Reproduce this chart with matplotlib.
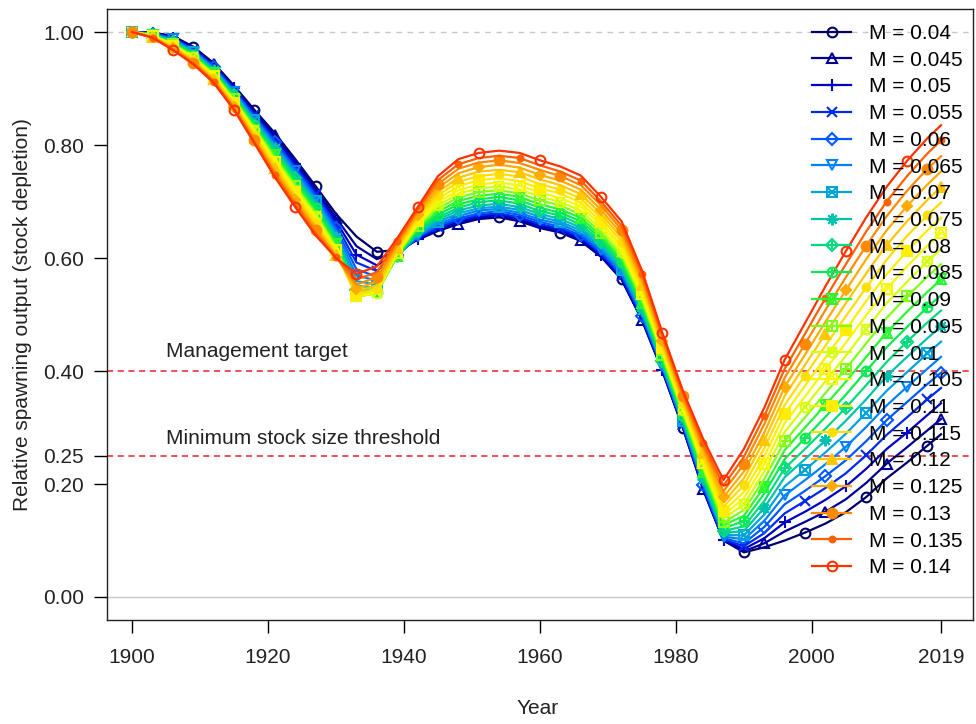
import numpy as np
import matplotlib
matplotlib.use("Agg")
import matplotlib.pyplot as plt
from matplotlib.legend_handler import HandlerTuple

plt.rcParams['font.family'] = ['Liberation Sans', 'DejaVu Sans']

# --- data (relative spawning output by year) ---
years = [1900, 1903, 1906, 1909, 1912, 1915, 1918, 1921, 1924, 1927,
         1930, 1933, 1936, 1939, 1942, 1945, 1948, 1951, 1954, 1957,
         1960, 1963, 1966, 1969, 1972, 1975, 1978, 1981, 1984, 1987,
         1990, 1993, 1996, 1999, 2002, 2005, 2008, 2011, 2014, 2017, 2019]

m_values = [0.04, 0.045, 0.05, 0.055, 0.06, 0.065, 0.07, 0.075, 0.08, 0.085, 0.09,
            0.095, 0.1, 0.105, 0.11, 0.115, 0.12, 0.125, 0.13, 0.135, 0.14]

dep_m040 = [1.000, 0.999, 0.993, 0.974, 0.945, 0.905, 0.862, 0.821, 0.775, 0.727, 0.678, 0.638, 0.611, 0.614, 0.632, 0.648, 0.660, 0.669, 0.672, 0.665, 0.653, 0.645, 0.630, 0.602, 0.562, 0.490, 0.400, 0.300, 0.190, 0.100, 0.079, 0.088, 0.100, 0.114, 0.130, 0.150, 0.177, 0.210, 0.238, 0.268, 0.288]
dep_m045 = [1.000, 0.999, 0.992, 0.972, 0.943, 0.903, 0.859, 0.817, 0.771, 0.723, 0.671, 0.621, 0.598, 0.611, 0.633, 0.649, 0.661, 0.670, 0.673, 0.666, 0.654, 0.646, 0.631, 0.603, 0.563, 0.491, 0.401, 0.301, 0.191, 0.100, 0.081, 0.095, 0.116, 0.133, 0.151, 0.173, 0.202, 0.236, 0.265, 0.295, 0.315]
dep_m050 = [1.000, 0.998, 0.990, 0.971, 0.941, 0.901, 0.856, 0.813, 0.766, 0.718, 0.665, 0.606, 0.587, 0.609, 0.634, 0.651, 0.664, 0.673, 0.676, 0.669, 0.657, 0.649, 0.634, 0.605, 0.565, 0.493, 0.402, 0.302, 0.193, 0.101, 0.085, 0.104, 0.132, 0.151, 0.172, 0.196, 0.227, 0.262, 0.291, 0.322, 0.343]
dep_m055 = [1.000, 0.998, 0.989, 0.969, 0.940, 0.899, 0.853, 0.809, 0.762, 0.714, 0.659, 0.592, 0.577, 0.607, 0.635, 0.654, 0.667, 0.676, 0.679, 0.672, 0.660, 0.652, 0.637, 0.608, 0.568, 0.495, 0.404, 0.304, 0.195, 0.102, 0.090, 0.113, 0.148, 0.170, 0.193, 0.219, 0.251, 0.287, 0.318, 0.350, 0.370]
dep_m060 = [1.000, 0.997, 0.988, 0.968, 0.938, 0.896, 0.850, 0.805, 0.758, 0.710, 0.653, 0.580, 0.567, 0.605, 0.637, 0.657, 0.670, 0.679, 0.683, 0.676, 0.664, 0.655, 0.640, 0.611, 0.571, 0.498, 0.406, 0.306, 0.198, 0.104, 0.095, 0.124, 0.164, 0.188, 0.214, 0.242, 0.276, 0.313, 0.345, 0.377, 0.397]
dep_m065 = [1.000, 0.997, 0.987, 0.966, 0.936, 0.894, 0.847, 0.801, 0.754, 0.705, 0.647, 0.569, 0.560, 0.604, 0.639, 0.660, 0.674, 0.684, 0.687, 0.680, 0.668, 0.660, 0.644, 0.615, 0.575, 0.501, 0.408, 0.308, 0.201, 0.107, 0.102, 0.135, 0.180, 0.207, 0.235, 0.266, 0.301, 0.339, 0.372, 0.404, 0.425]
dep_m070 = [1.000, 0.996, 0.986, 0.965, 0.934, 0.892, 0.844, 0.798, 0.749, 0.701, 0.642, 0.559, 0.553, 0.603, 0.641, 0.664, 0.679, 0.688, 0.691, 0.685, 0.673, 0.664, 0.649, 0.619, 0.579, 0.504, 0.411, 0.311, 0.205, 0.110, 0.109, 0.146, 0.196, 0.225, 0.256, 0.289, 0.326, 0.365, 0.398, 0.431, 0.452]
dep_m075 = [1.000, 0.996, 0.984, 0.963, 0.933, 0.890, 0.841, 0.794, 0.745, 0.697, 0.637, 0.551, 0.547, 0.603, 0.644, 0.668, 0.684, 0.693, 0.696, 0.690, 0.678, 0.669, 0.654, 0.624, 0.583, 0.508, 0.414, 0.314, 0.209, 0.113, 0.117, 0.158, 0.212, 0.244, 0.277, 0.312, 0.350, 0.391, 0.425, 0.458, 0.479]
dep_m080 = [1.000, 0.995, 0.983, 0.962, 0.931, 0.888, 0.838, 0.790, 0.741, 0.692, 0.632, 0.544, 0.543, 0.603, 0.647, 0.672, 0.689, 0.699, 0.702, 0.696, 0.683, 0.675, 0.659, 0.629, 0.588, 0.512, 0.417, 0.317, 0.213, 0.117, 0.125, 0.170, 0.228, 0.262, 0.298, 0.335, 0.375, 0.416, 0.452, 0.486, 0.507]
dep_m085 = [1.000, 0.995, 0.982, 0.960, 0.929, 0.886, 0.835, 0.786, 0.737, 0.688, 0.628, 0.539, 0.540, 0.604, 0.650, 0.677, 0.695, 0.704, 0.708, 0.702, 0.689, 0.680, 0.665, 0.634, 0.593, 0.517, 0.421, 0.320, 0.217, 0.122, 0.134, 0.183, 0.244, 0.281, 0.319, 0.358, 0.400, 0.442, 0.478, 0.513, 0.534]
dep_m090 = [1.000, 0.994, 0.980, 0.958, 0.927, 0.883, 0.832, 0.782, 0.732, 0.683, 0.624, 0.535, 0.538, 0.604, 0.652, 0.682, 0.701, 0.710, 0.714, 0.708, 0.695, 0.686, 0.671, 0.639, 0.598, 0.521, 0.424, 0.323, 0.222, 0.127, 0.144, 0.195, 0.260, 0.300, 0.340, 0.381, 0.425, 0.468, 0.505, 0.540, 0.562]
dep_m095 = [1.000, 0.994, 0.979, 0.957, 0.926, 0.881, 0.830, 0.778, 0.728, 0.679, 0.620, 0.532, 0.537, 0.606, 0.656, 0.688, 0.707, 0.717, 0.720, 0.714, 0.702, 0.693, 0.677, 0.645, 0.604, 0.526, 0.428, 0.327, 0.227, 0.132, 0.154, 0.209, 0.276, 0.318, 0.361, 0.404, 0.449, 0.494, 0.532, 0.567, 0.589]
dep_m100 = [1.000, 0.994, 0.978, 0.955, 0.924, 0.879, 0.827, 0.774, 0.724, 0.675, 0.617, 0.531, 0.538, 0.607, 0.659, 0.693, 0.714, 0.723, 0.727, 0.721, 0.709, 0.699, 0.684, 0.651, 0.610, 0.531, 0.432, 0.331, 0.232, 0.139, 0.164, 0.222, 0.292, 0.337, 0.382, 0.427, 0.474, 0.520, 0.558, 0.594, 0.616]
dep_m105 = [1.000, 0.993, 0.977, 0.954, 0.922, 0.877, 0.824, 0.770, 0.720, 0.670, 0.614, 0.531, 0.540, 0.609, 0.662, 0.699, 0.720, 0.730, 0.734, 0.728, 0.716, 0.706, 0.691, 0.658, 0.616, 0.536, 0.436, 0.335, 0.237, 0.145, 0.175, 0.235, 0.308, 0.355, 0.403, 0.450, 0.499, 0.545, 0.585, 0.622, 0.644]
dep_m110 = [1.000, 0.993, 0.976, 0.952, 0.920, 0.875, 0.821, 0.766, 0.716, 0.666, 0.611, 0.533, 0.542, 0.612, 0.666, 0.705, 0.727, 0.738, 0.741, 0.736, 0.723, 0.714, 0.698, 0.664, 0.622, 0.542, 0.440, 0.339, 0.243, 0.152, 0.186, 0.249, 0.324, 0.374, 0.424, 0.473, 0.524, 0.571, 0.612, 0.649, 0.671]
dep_m115 = [1.000, 0.992, 0.974, 0.951, 0.919, 0.873, 0.818, 0.762, 0.711, 0.662, 0.608, 0.536, 0.546, 0.615, 0.670, 0.711, 0.735, 0.745, 0.749, 0.744, 0.731, 0.721, 0.705, 0.671, 0.629, 0.547, 0.444, 0.343, 0.249, 0.160, 0.198, 0.263, 0.340, 0.392, 0.445, 0.497, 0.548, 0.597, 0.639, 0.676, 0.698]
dep_m120 = [1.000, 0.992, 0.973, 0.949, 0.917, 0.871, 0.815, 0.759, 0.707, 0.657, 0.606, 0.540, 0.552, 0.618, 0.674, 0.717, 0.742, 0.753, 0.756, 0.752, 0.739, 0.729, 0.713, 0.678, 0.636, 0.553, 0.449, 0.347, 0.254, 0.168, 0.210, 0.277, 0.356, 0.411, 0.466, 0.520, 0.573, 0.623, 0.665, 0.703, 0.726]
dep_m125 = [1.000, 0.991, 0.972, 0.948, 0.915, 0.868, 0.812, 0.755, 0.703, 0.653, 0.604, 0.546, 0.558, 0.622, 0.677, 0.724, 0.750, 0.761, 0.765, 0.760, 0.747, 0.737, 0.721, 0.685, 0.643, 0.559, 0.453, 0.352, 0.261, 0.177, 0.222, 0.291, 0.372, 0.429, 0.487, 0.543, 0.598, 0.649, 0.692, 0.730, 0.753]
dep_m130 = [1.000, 0.991, 0.970, 0.946, 0.913, 0.866, 0.809, 0.751, 0.698, 0.649, 0.602, 0.553, 0.566, 0.626, 0.682, 0.731, 0.758, 0.769, 0.773, 0.768, 0.756, 0.745, 0.729, 0.693, 0.650, 0.565, 0.458, 0.356, 0.267, 0.187, 0.235, 0.306, 0.388, 0.448, 0.508, 0.566, 0.622, 0.674, 0.719, 0.758, 0.780]
dep_m135 = [1.000, 0.990, 0.969, 0.945, 0.912, 0.864, 0.806, 0.747, 0.694, 0.644, 0.601, 0.562, 0.575, 0.630, 0.686, 0.738, 0.766, 0.777, 0.781, 0.777, 0.764, 0.753, 0.737, 0.700, 0.657, 0.572, 0.463, 0.361, 0.273, 0.197, 0.248, 0.320, 0.404, 0.466, 0.529, 0.589, 0.647, 0.700, 0.745, 0.785, 0.808]
dep_m140 = [1.000, 0.990, 0.968, 0.943, 0.910, 0.862, 0.803, 0.743, 0.690, 0.640, 0.600, 0.572, 0.585, 0.635, 0.690, 0.745, 0.775, 0.786, 0.790, 0.786, 0.773, 0.762, 0.746, 0.708, 0.665, 0.578, 0.468, 0.366, 0.280, 0.207, 0.262, 0.335, 0.420, 0.485, 0.550, 0.612, 0.672, 0.726, 0.772, 0.812, 0.835]

series = [dep_m040, dep_m045, dep_m050, dep_m055, dep_m060, dep_m065, dep_m070,
          dep_m075, dep_m080, dep_m085, dep_m090, dep_m095, dep_m100, dep_m105,
          dep_m110, dep_m115, dep_m120, dep_m125, dep_m130, dep_m135, dep_m140]

mgmt_target = 0.40
min_threshold = 0.25
x_ticks = [1900, 1920, 1940, 1960, 1980, 2000, 2019]
y_ticks = [0.0, 0.2, 0.25, 0.4, 0.6, 0.8, 1.0]


def rich_colors_short(n):
    # r4ss palette: dark blue -> cyan -> green -> yellow -> red
    x = np.linspace(0, 1, n)
    r = 1 / (1 + np.exp(20 - 35 * x))
    g = np.clip(-0.8 + 6 * x - 5 * x ** 2, 0, 1)
    b = np.exp(-(x - 0.25) ** 2 / (2 * 0.15 ** 2))
    b = b / b.max()
    return np.column_stack([r, g, b])


colors = rich_colors_short(len(series) + 1)[1:]

# R pch 1..21 look-alikes: (marker, filled, size factor, overlay marker)
pch = [
    ('o', False, 1.0, None),
    ('^', False, 1.0, None),
    ('+', False, 1.2, None),
    ('x', False, 1.0, None),
    ('D', False, 0.9, None),
    ('v', False, 1.0, None),
    ('s', False, 1.0, 'x'),
    ((8, 2, 0), False, 1.2, None),
    ('D', False, 0.9, '+'),
    ('o', False, 1.0, '+'),
    ('^', False, 1.0, 'v'),
    ('s', False, 1.0, '+'),
    ('o', False, 1.0, 'x'),
    ('s', False, 1.0, '^'),
    ('s', True, 1.0, None),
    ('o', True, 0.8, None),
    ('^', True, 1.0, None),
    ('D', True, 0.7, None),
    ('o', True, 1.0, None),
    ('o', True, 0.6, None),
    ('o', False, 1.0, None),
]

fig = plt.figure(figsize=(9.76, 7.24), dpi=100)
ax = fig.add_axes([0.1096, 0.1442, 0.8873, 0.8428])

ax.axhline(1.0, color='#c8c8c8', lw=1, ls=(0, (4, 4)), zorder=0)
ax.axhline(0.0, color='#c8c8c8', lw=1, zorder=0)
ax.axhline(mgmt_target, color='#e8202a', lw=1.1, ls=(0, (4, 3)), zorder=0)
ax.axhline(min_threshold, color='#e8202a', lw=1.1, ls=(0, (4, 3)), zorder=0)

handles = []
for k, (vals, col, (mk, filled, sc, extra)) in enumerate(zip(series, colors, pch)):
    every = (k % 3, 3)
    ms = 7 * sc
    line, = ax.plot(years, vals, color=col, lw=1.6, marker=mk, ms=ms,
                    mfc=col if filled else 'none', mec=col, mew=1.5,
                    markevery=every)
    h = line
    if extra is not None:
        over, = ax.plot(years, vals, ls='none', marker=extra, ms=ms,
                        mfc='none', mec=col, mew=1.5, markevery=every)
        h = (line, over)
    handles.append(h)

labels = [f"M = {m:g}" for m in m_values]
ax.legend(handles, labels, loc='upper left', bbox_to_anchor=(0.814, 0.976),
          frameon=False, borderpad=0, borderaxespad=0, handlelength=1.9,
          handletextpad=0.85, labelspacing=0.37, fontsize=15,
          handler_map={tuple: HandlerTuple(ndivide=1)})

ax.text(1905, 0.435, "Management target", fontsize=15, va='center', color='#222222')
ax.text(1905, 0.281, "Minimum stock size threshold", fontsize=15, va='center', color='#222222')

ax.set_xlim(1896.3, 2023.7)
ax.set_ylim(-0.04, 1.04)
ax.set_xticks(x_ticks)
ax.set_xticklabels([str(t) for t in x_ticks])
ax.set_yticks(y_ticks)
ax.set_yticklabels([f"{v:.2f}" for v in y_ticks])
ax.tick_params(axis='both', direction='out', length=9.4, width=1,
               labelsize=15, labelcolor='#222222')
ax.tick_params(axis='x', pad=11)
ax.tick_params(axis='y', pad=7)
for sp in ax.spines.values():
    sp.set_linewidth(1)
    sp.set_color('#222222')

fig.text(538 / 976, 1 - 709 / 724, "Year", ha='center', va='center',
         fontsize=15, color='#222222')
fig.text(23 / 976, 1 - 315 / 724, "Relative spawning output (stock depletion)",
         rotation=90, ha='center', va='center', fontsize=15, color='#222222')

fig.savefig('out.png', dpi=100)
